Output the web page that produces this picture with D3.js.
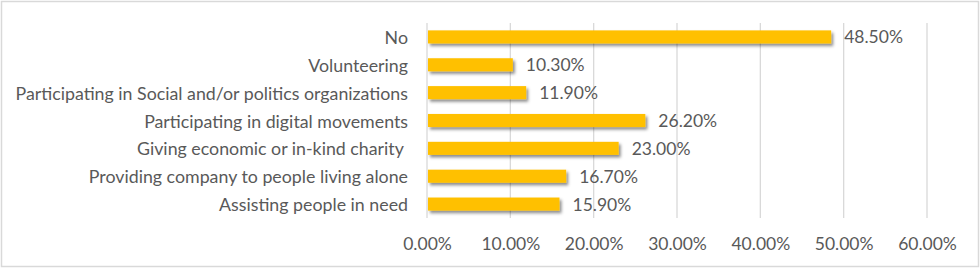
<!DOCTYPE html>
<html>
<head>
<meta charset="utf-8">
<script src="https://cdn.jsdelivr.net/npm/d3@7"></script>
<style>
  html, body { margin: 0; padding: 0; background: #fff; }
  svg { display: block; }
  text { font-family: Lato, "Open Sans", sans-serif; fill: #595959; white-space: pre; }
</style>
</head>
<body>
<svg id="chart" width="980" height="268"></svg>
<script>
const categories = [
  "No",
  "Volunteering",
  "Participating in Social and/or politics organizations",
  "Participating in digital movements",
  "Giving economic or in-kind charity ",
  "Providing company to people living alone",
  "Assisting people in need"
];
const values = [48.5, 10.3, 11.9, 26.2, 23.0, 16.7, 15.9];
const tickValues = [0, 10, 20, 30, 40, 50, 60];

const svg = d3.select("#chart");
const W = 980, H = 268;
const plot = { left: 427, right: 927, top: 23, bottom: 218 };

// outer border
svg.append("rect").attr("x", 1.5).attr("y", 1.5).attr("width", W - 3).attr("height", H - 3)
  .attr("fill", "#fff").attr("stroke", "#d9d9d9").attr("stroke-width", 1.5);

const defs = svg.append("defs");
const f = defs.append("filter").attr("id", "shadow").attr("x", "-5%").attr("y", "-50%").attr("width", "115%").attr("height", "220%");
f.append("feDropShadow").attr("dx", 2).attr("dy", 2.5).attr("stdDeviation", 1.6)
  .attr("flood-color", "#000").attr("flood-opacity", 0.45);

const x = d3.scaleLinear().domain([0, 60]).range([plot.left, plot.right]);
const y = d3.scaleBand().domain(categories).range([plot.top, plot.bottom])
  .paddingInner(0.53).paddingOuter(0.265);

// gridlines
svg.append("g").selectAll("line").data(tickValues).join("line")
  .attr("x1", d => x(d)).attr("x2", d => x(d))
  .attr("y1", plot.top).attr("y2", plot.bottom)
  .attr("stroke", "#d9d9d9").attr("stroke-width", 1.3);

// x axis labels
const xAxis = d3.axisBottom(x).tickValues(tickValues).tickSize(0).tickPadding(0)
  .tickFormat(d => d.toFixed(2) + "%");
const gx = svg.append("g").attr("transform", `translate(0,${plot.bottom})`).call(xAxis);
gx.select(".domain").remove();
gx.selectAll("text").attr("dy", null).attr("y", 25).attr("dominant-baseline", "central")
  .style("font-size", "17.5px").attr("fill", "#595959").style("font-family", "Lato, 'Open Sans', sans-serif");

// y axis labels
const yAxis = d3.axisLeft(y).tickSize(0).tickPadding(0);
const gy = svg.append("g").attr("transform", `translate(${plot.left - 19},0)`).call(yAxis);
gy.select(".domain").remove();
gy.selectAll("text").attr("dy", null).attr("dominant-baseline", "central")
  .style("font-size", "17.8px").style("white-space", "pre").attr("fill", "#595959")
  .style("font-family", "Lato, 'Open Sans', sans-serif");

// bars
svg.append("g").attr("filter", "url(#shadow)").selectAll("rect").data(values).join("rect")
  .attr("x", x(0) + 1)
  .attr("y", (d, i) => y(categories[i]))
  .attr("width", d => x(d) - x(0) - 1)
  .attr("height", y.bandwidth())
  .attr("fill", "#ffc000");

// data labels
svg.append("g").selectAll("text").data(values).join("text")
  .attr("x", d => x(d) + 13)
  .attr("y", (d, i) => y(categories[i]) + y.bandwidth() / 2)
  .attr("dominant-baseline", "central")
  .style("font-size", "17.5px")
  .text(d => d.toFixed(2) + "%");
</script>
</body>
</html>
